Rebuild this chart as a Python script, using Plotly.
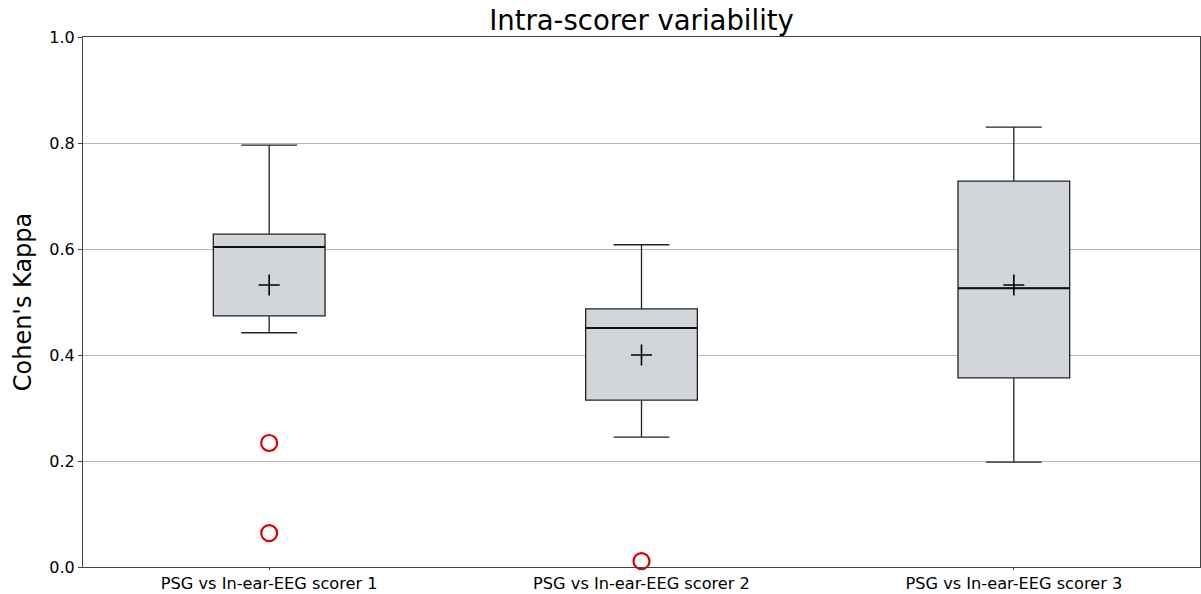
import plotly.graph_objects as go

categories = ["PSG vs In-ear-EEG scorer 1", "PSG vs In-ear-EEG scorer 2", "PSG vs In-ear-EEG scorer 3"]
positions = [1, 2, 3]
lower_whisker = [0.442, 0.245, 0.198]
q1 = [0.474, 0.315, 0.357]
median = [0.604, 0.451, 0.526]
q3 = [0.628, 0.487, 0.728]
upper_whisker = [0.796, 0.608, 0.830]
means = [0.532, 0.400, 0.532]
outlier_x = [1, 1, 2]
outlier_y = [0.234, 0.064, 0.011]

fig = go.Figure()
fig.add_trace(go.Box(
    x=positions, q1=q1, median=median, q3=q3,
    lowerfence=lower_whisker, upperfence=upper_whisker,
    width=0.3, whiskerwidth=0.5,
    fillcolor="#d2d6db", line=dict(color="#222222", width=1.3),
    boxpoints=False, showlegend=False, hoverinfo="skip",
))
# thicker median lines drawn on top
for p, m in zip(positions, median):
    fig.add_trace(go.Scatter(
        x=[p - 0.15, p + 0.15], y=[m, m], mode="lines",
        line=dict(color="#111111", width=2), showlegend=False, hoverinfo="skip",
    ))
fig.add_trace(go.Scatter(
    x=positions, y=means, mode="markers",
    marker=dict(symbol="cross-thin", size=15, line=dict(color="black", width=1.6)),
    showlegend=False,
))
fig.add_trace(go.Scatter(
    x=outlier_x, y=outlier_y, mode="markers",
    marker=dict(symbol="circle-open", size=16, color="#dd0000", line=dict(width=2.2)),
    showlegend=False, cliponaxis=False,
))

fig.update_layout(
    width=1201, height=594,
    margin=dict(l=83, r=1, t=37, b=27),
    paper_bgcolor="white", plot_bgcolor="white",
    font=dict(family="DejaVu Sans", color="black", size=16),
    title=dict(text="Intra-scorer variability", x=0.5, xref="paper", xanchor="center",
               y=0.966, yanchor="middle", font=dict(size=27.5)),
)
fig.update_xaxes(
    range=[0.5, 3.5], tickmode="array", tickvals=positions, ticktext=categories,
    showgrid=False, zeroline=False, showline=True, linecolor="#444444", linewidth=1, mirror=True,
    ticks="outside", ticklen=2, tickcolor="#444444", tickfont=dict(size=16.2), automargin=False,
)
fig.update_yaxes(
    range=[0, 1.0], tickmode="array", tickvals=[0, 0.2, 0.4, 0.6, 0.8, 1.0],
    ticktext=["0.0", "0.2", "0.4", "0.6", "0.8", "1.0"],
    showgrid=True, gridcolor="#b8b8b8", gridwidth=1, zeroline=False,
    showline=True, linecolor="#444444", linewidth=1, mirror=True,
    ticks="outside", ticklen=4, tickcolor="#444444", tickfont=dict(size=16), automargin=False,
    title=dict(text="Cohen's Kappa", font=dict(size=24), standoff=10),
)
fig.write_html("out.html")
